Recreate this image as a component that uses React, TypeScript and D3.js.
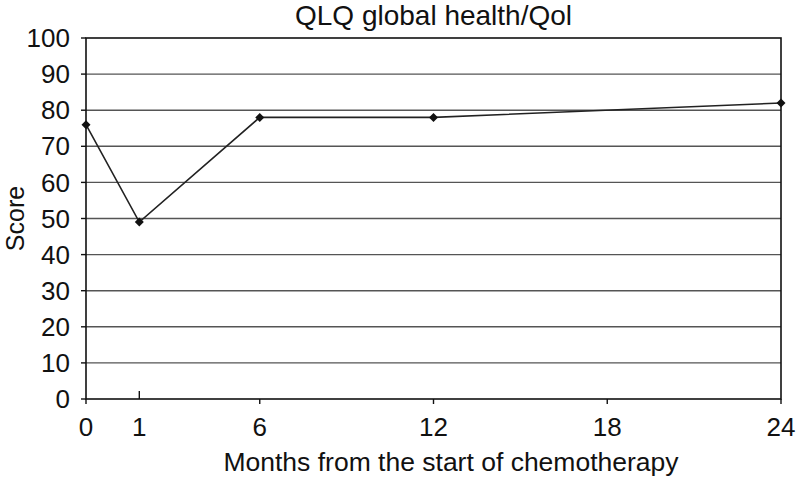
import React from "react";
import * as d3 from "d3";

const months = [0, 1, 6, 12, 24];
const scores = [76, 49, 78, 78, 82];
const xTicks = [0, 1, 6, 12, 18, 24];
const yTicks = [0, 10, 20, 30, 40, 50, 60, 70, 80, 90, 100];
const title = "QLQ global health/Qol";
const xTitle = "Months from the start of chemotherapy";
const yTitle = "Score";

const W = 796;
const H = 478;
const L = 86, R = 781, T = 38, B = 399;
const FONT = "'Liberation Sans', Arial, Helvetica, sans-serif";

export default function App() {
  const xFrac = [0, 0.0767, 0.25, 0.5, 0.75, 1];
  const x = d3.scaleLinear().domain(xTicks).range(xFrac.map((f) => L + f * (R - L)));
  const y = d3.scaleLinear().domain([0, 100]).range([B, T]);
  const data = months.map((m, i) => ({ m, v: scores[i] }));
  const line = d3.line<{ m: number; v: number }>().x((d) => x(d.m)).y((d) => y(d.v));
  const diamond = (cx: number, cy: number, r: number) =>
    `M${cx},${cy - r}L${cx + r},${cy}L${cx},${cy + r}L${cx - r},${cy}Z`;

  return (
    <svg width={W} height={H} style={{ position: "absolute", left: 0, top: 0, background: "#fff" }} fontFamily={FONT}>
      <rect x={0} y={0} width={W} height={H} fill="#fff" />
      {yTicks.filter((t) => t > 0 && t < 100).map((t) => (
        <line key={"g" + t} x1={L} x2={R} y1={y(t)} y2={y(t)} stroke="#555" strokeWidth={1.4} />
      ))}
      <rect x={L} y={T} width={R - L} height={B - T} fill="none" stroke="#111" strokeWidth={1.6} />
      {yTicks.map((t) => (
        <g key={"y" + t}>
          <line x1={L - 5} x2={L} y1={y(t)} y2={y(t)} stroke="#111" strokeWidth={1.4} />
          <text x={70} y={y(t)} dy="0.35em" textAnchor="end" fontSize={26} fill="#111">{t}</text>
        </g>
      ))}
      {xTicks.map((t) => (
        <g key={"x" + t}>
          <line x1={x(t)} x2={x(t)} y1={t === 1 ? B - 8 : B} y2={t === 1 ? B : B + 5} stroke="#111" strokeWidth={1.4} />
          <text x={x(t)} y={436} textAnchor="middle" fontSize={26} fill="#111">{t}</text>
        </g>
      ))}
      <path d={line(data) || ""} fill="none" stroke="#222" strokeWidth={1.6} />
      {data.map((d, i) => (
        <path key={"p" + i} d={diamond(x(d.m), y(d.v), 4.5)} fill="#111" />
      ))}
      <text x={(L + R) / 2} y={25} textAnchor="middle" fontSize={28} fill="#111">{title}</text>
      <text x={451} y={471} textAnchor="middle" fontSize={26.5} fill="#111">{xTitle}</text>
      <text transform={`translate(24,${(T + B) / 2}) rotate(-90)`} textAnchor="middle" fontSize={25} fill="#111">{yTitle}</text>
    </svg>
  );
}
